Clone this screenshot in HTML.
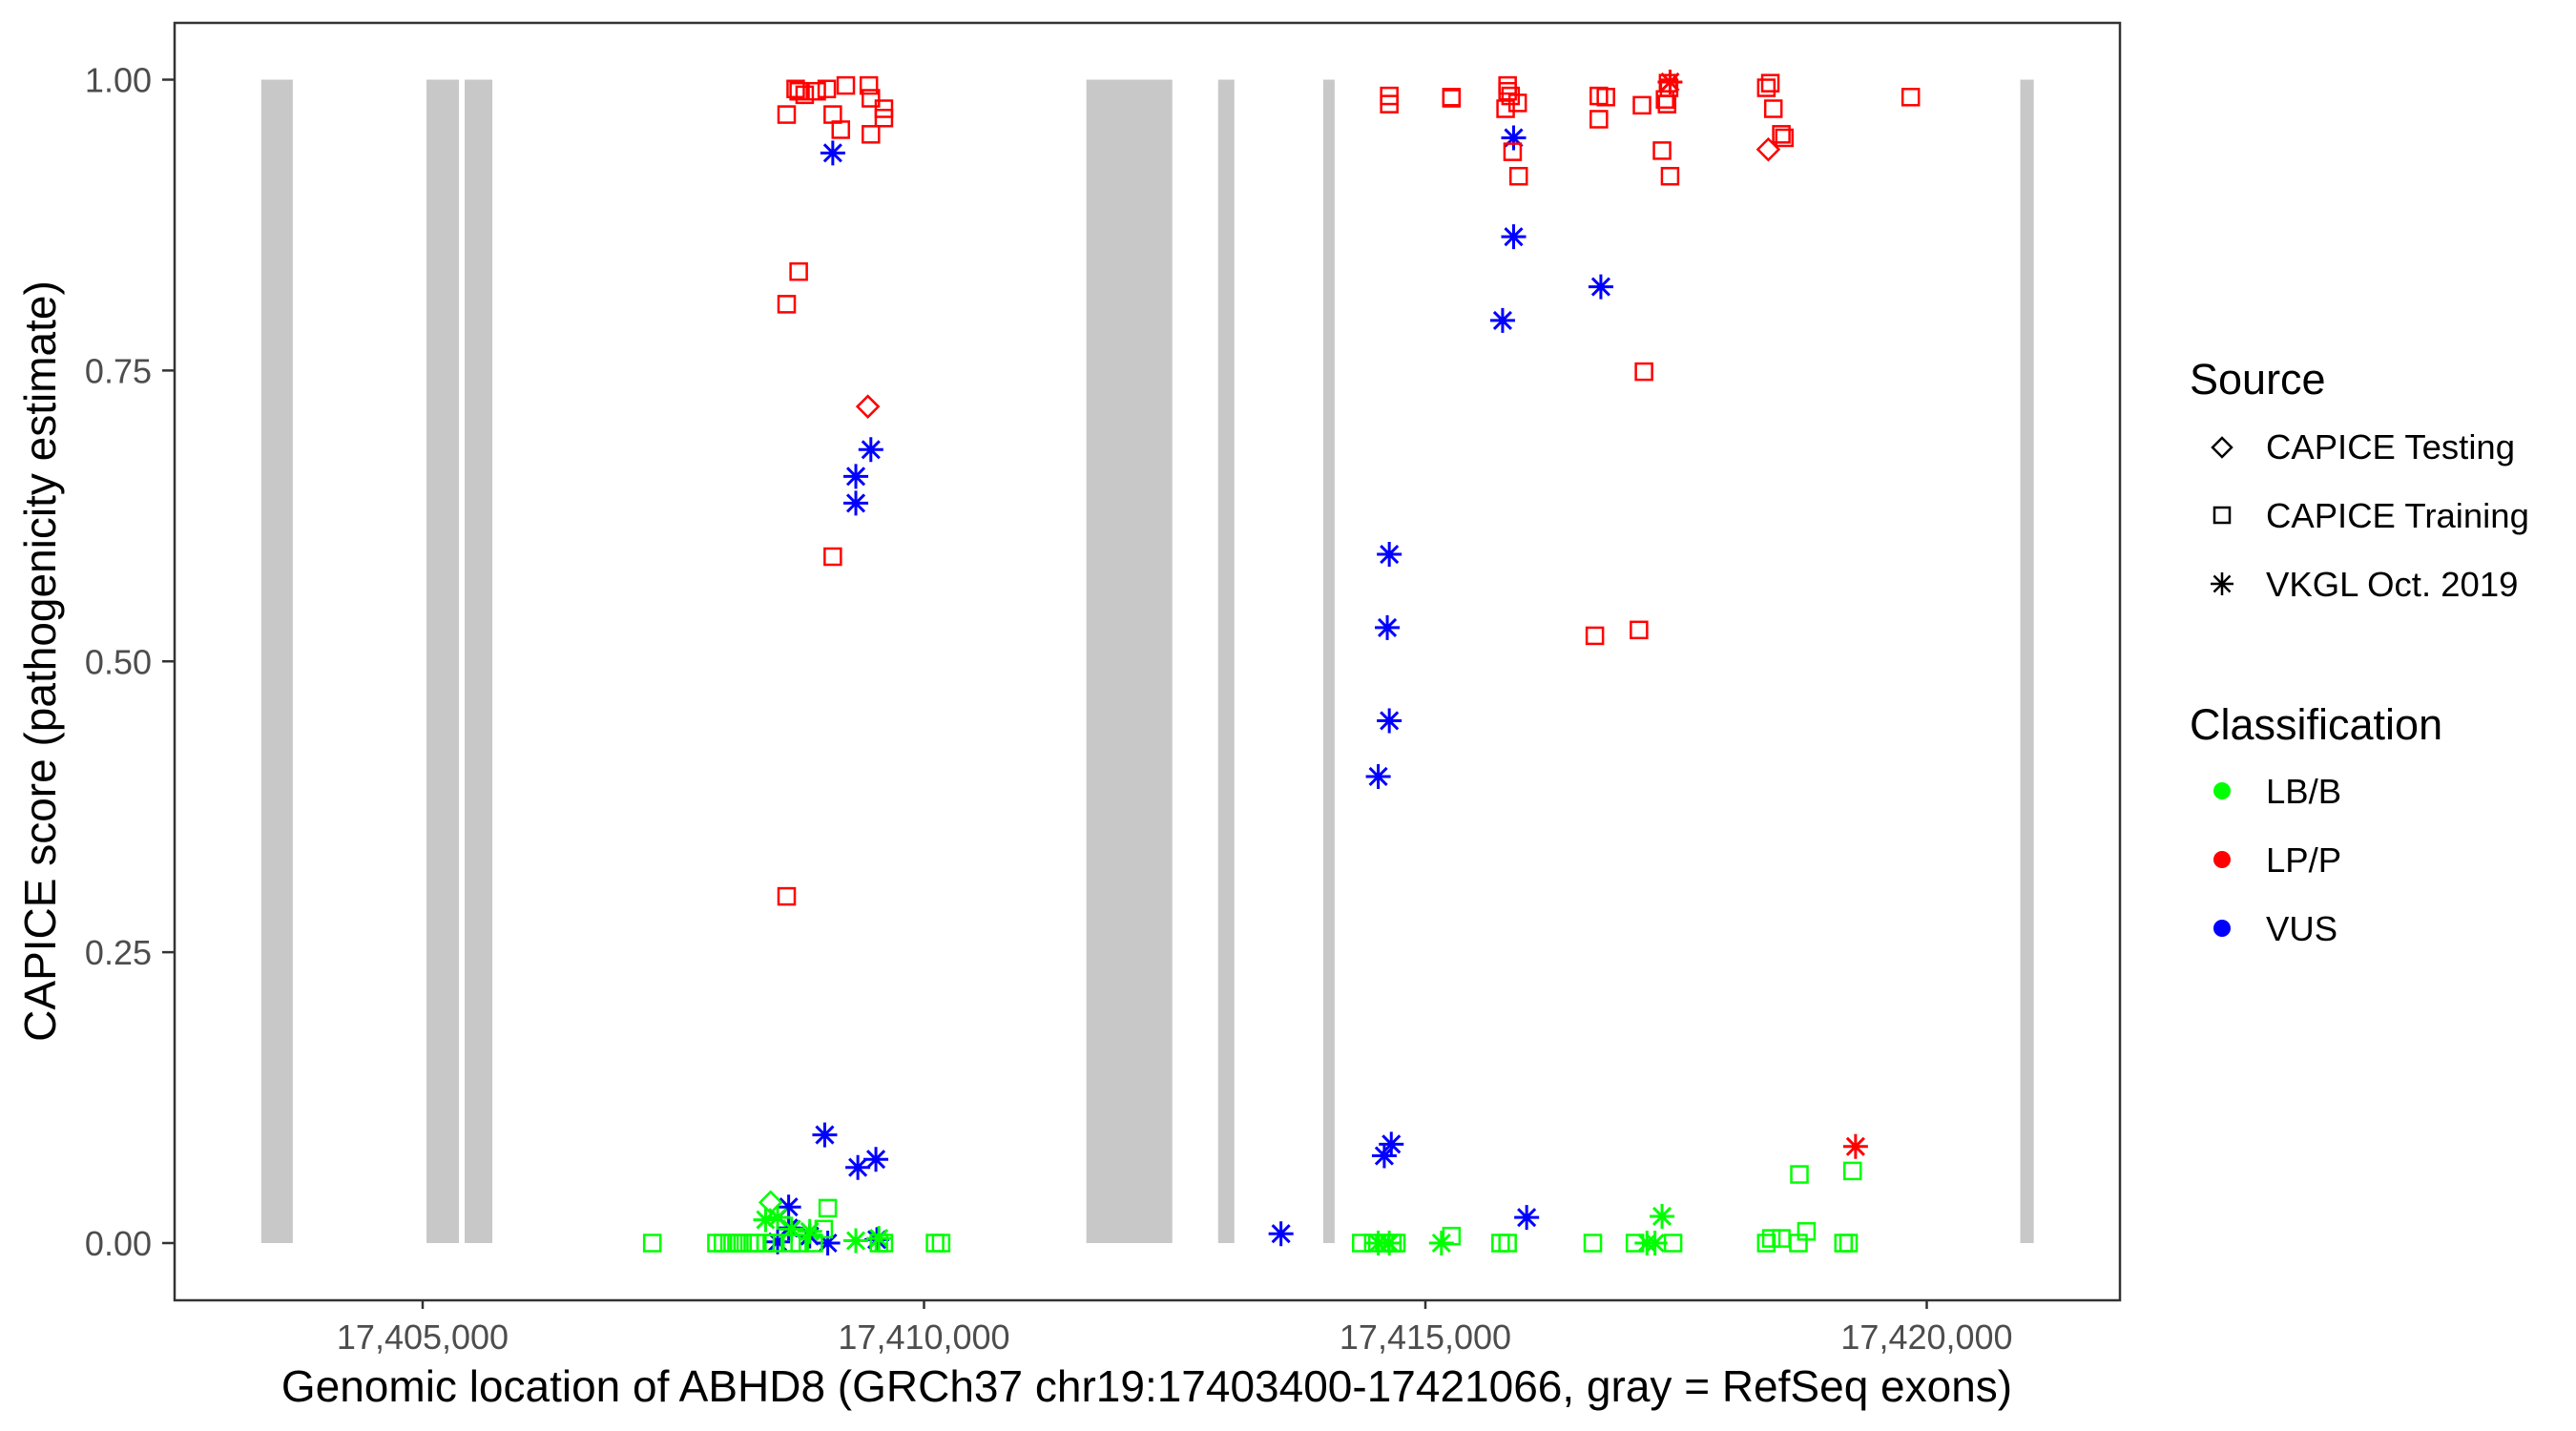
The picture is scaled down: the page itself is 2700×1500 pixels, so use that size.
<!DOCTYPE html>
<html><head><meta charset="utf-8"><style>
html,body{margin:0;padding:0;background:#fff;}
svg{display:block;font-family:"Liberation Sans",Arial,sans-serif;}
</style></head><body>
<svg id="chart" width="2700" height="1500" viewBox="0 0 2700 1500">
<rect x="0" y="0" width="2700" height="1500" fill="#fff"/>
<g id="exons"></g>
<g id="points"></g>
<rect x="183" y="24" width="2039" height="1339" fill="none" stroke="#333" stroke-width="2.5"/>
<g id="axes"></g>
<text x="1202" y="1469" font-size="46" text-anchor="middle" fill="#000">Genomic location of ABHD8 (GRCh37 chr19:17403400-17421066, gray = RefSeq exons)</text>
<text transform="translate(58,693) rotate(-90)" font-size="46" text-anchor="middle" fill="#000">CAPICE score (pathogenicity estimate)</text>
<g>
<text x="2295" y="413" font-size="45">Source</text>
<g><path d="M2329,459 l10,10 l-10,10 l-10,-10z" fill="none" stroke="#000" stroke-width="2.5"/><text x="2375" y="481" font-size="36.5">CAPICE Testing</text></g>
<g><rect x="2321" y="532" width="16" height="16" fill="none" stroke="#000" stroke-width="2.5"/><text x="2375" y="553" font-size="36.5">CAPICE Training</text></g>
<g><path d="M2329,600 v24 M2317,612 h24 M2320.5,603.5 l17,17 M2337.5,603.5 l-17,17" stroke="#000" stroke-width="2.5"/><text x="2375" y="625" font-size="36.5">VKGL Oct. 2019</text></g>
</g>
<g>
<text x="2295" y="775" font-size="45">Classification</text>
<g><circle cx="2329" cy="829" r="9" fill="#00ff00"/><text x="2375" y="842" font-size="36.5">LB/B</text></g>
<g><circle cx="2329" cy="901" r="9" fill="#ff0000"/><text x="2375" y="914" font-size="36.5">LP/P</text></g>
<g><circle cx="2329" cy="973" r="9" fill="#0000ff"/><text x="2375" y="986" font-size="36.5">VUS</text></g>
</g>
</svg>
<script>
const exonStart = [17403390,17405038,17405419,17411619,17412933,17413981,17420933];
const exonEnd   = [17403705,17405362,17405695,17412476,17413095,17414095,17421067];
const xTicks = [17405000,17410000,17415000,17420000];
const xTickLabels = ["17,405,000","17,410,000","17,415,000","17,420,000"];
const yTicks = [0,0.25,0.5,0.75,1];
const yTickLabels = ["0.00","0.25","0.50","0.75","1.00"];
// position in kb, score, source (T=testing,R=training,V=VKGL), class (B,P,U)
const posKb = [
17408.63,17408.72,17408.75,17408.81,17408.93,17409.03,17409.09,17409.17,17409.22,17409.45,17409.47,17409.47,17409.60,17409.60,17408.75,17408.63,17409.09,17408.63,
17409.44,17418.42,
17409.09,17409.32,17409.32,17409.47,17409.01,17409.34,17409.52,17408.65,17408.65,17408.54,17408.86,17409.04,17409.53,17413.56,17416.01,17414.64,17414.62,17414.64,17414.53,17414.66,17414.59,17415.88,17415.88,17415.77,17416.75,
17419.29,
17407.29,17407.93,17407.995,17408.06,17408.13,17408.19,17408.26,17408.32,17408.42,17408.50,17408.68,17408.76,17408.90,17409.55,17409.60,17410.11,17410.17,17409.04,17418.73,17419.26,
17408.47,17408.42,17408.54,17408.68,17408.86,17409.32,17409.55,
17414.36,17414.48,17414.59,17414.67,17414.71,17415.26,17415.75,17415.82,17416.67,17417.09,17417.47,17418.40,17418.45,17418.55,17418.72,17418.80,17419.17,17419.22,
17414.53,17414.64,17415.16,17417.21,17417.36,17417.29,
17409.00,
17414.64,17414.64,17415.26,17415.26,17415.82,17415.82,17415.85,17415.80,17415.92,17415.87,17415.93,17416.73,17416.80,17416.73,17417.16,17417.36,17417.44,17417.42,17417.43,17417.39,17417.41,17418.40,17418.47,17418.44,17418.55,17418.58,17419.84,17417.18,17416.69,17417.13,
17417.44
];
const score = [
0.970,0.992,0.990,0.987,0.990,0.992,0.970,0.957,0.995,0.995,0.984,0.953,0.975,0.967,0.835,0.807,0.590,0.298,
0.719,0.940,
0.937,0.659,0.636,0.682,0.093,0.065,0.072,0.031,0.013,0.001,0.006,0.000,0.003,0.008,0.022,0.592,0.529,0.449,0.401,0.085,0.075,0.950,0.865,0.793,0.822,
0.083,
0,0,0,0,0,0,0,0,0,0,0,0,0,0,0,0,0,0.030,0.059,0.062,
0.035,0.020,0.022,0.012,0.010,0.002,0.004,
0,0,0,0,0,0.006,0,0,0,0,0,0,0.004,0.004,0,0.010,0,0,
0,0,0,0,0.023,0,
0.012,
0.986,0.979,0.985,0.984,0.995,0.990,0.986,0.975,0.980,0.938,0.917,0.986,0.985,0.966,0.978,0.939,0.917,0.997,0.993,0.983,0.979,0.993,0.975,0.997,0.953,0.950,0.985,0.749,0.522,0.527,
0.998
];
const source = [
"R","R","R","R","R","R","R","R","R","R","R","R","R","R","R","R","R","R",
"T","T",
"V","V","V","V","V","V","V","V","V","V","V","V","V","V","V","V","V","V","V","V","V","V","V","V","V",
"V",
"R","R","R","R","R","R","R","R","R","R","R","R","R","R","R","R","R","R","R","R",
"T","V","V","V","V","V","V",
"R","R","R","R","R","R","R","R","R","R","R","R","R","R","R","R","R","R",
"V","V","V","V","V","V",
"R",
"R","R","R","R","R","R","R","R","R","R","R","R","R","R","R","R","R","R","R","R","R","R","R","R","R","R","R","R","R","R",
"V"
];
const classification = [
"P","P","P","P","P","P","P","P","P","P","P","P","P","P","P","P","P","P",
"P","P",
"U","U","U","U","U","U","U","U","U","U","U","U","U","U","U","U","U","U","U","U","U","U","U","U","U",
"P",
"B","B","B","B","B","B","B","B","B","B","B","B","B","B","B","B","B","B","B","B",
"B","B","B","B","B","B","B",
"B","B","B","B","B","B","B","B","B","B","B","B","B","B","B","B","B","B",
"B","B","B","B","B","B",
"B",
"P","P","P","P","P","P","P","P","P","P","P","P","P","P","P","P","P","P","P","P","P","P","P","P","P","P","P","P","P","P",
"P"
];
const colors = {B:"#00ff00",P:"#ff0000",U:"#0000ff"};
const NS = "http://www.w3.org/2000/svg";
function xScale(bp){ return 443 + (bp - 17405000) * 0.1051; }
function yScale(v){ return 1303 - v * 1219.5; }
function mk(tag, attrs){ const e = document.createElementNS(NS, tag); for (const k in attrs) e.setAttribute(k, attrs[k]); return e; }
const gEx = document.getElementById('exons');
for (let i = 0; i < exonStart.length; i++) {
  const r = mk('rect', {x: xScale(exonStart[i]), y: yScale(1), width: xScale(exonEnd[i]) - xScale(exonStart[i]), height: yScale(0) - yScale(1), fill: '#c8c8c8'});
  
  
  gEx.appendChild(r);
}
const gAx = document.getElementById('axes');
xTicks.forEach((t, i) => {
  const x = xScale(t);
  const l = mk('line', {x1: x, x2: x, y1: 1363, y2: 1372, stroke: '#333', 'stroke-width': 2.5});
  
  
  gAx.appendChild(l);
  const tx = mk('text', {x: x, y: 1414, 'font-size': 36, 'text-anchor': 'middle', fill: '#4d4d4d'});
  tx.textContent = xTickLabels[i];
  
  
  gAx.appendChild(tx);
});
yTicks.forEach((t, i) => {
  const y = yScale(t);
  const l = mk('line', {x1: 170, x2: 183, y1: y, y2: y, stroke: '#333', 'stroke-width': 2.5});
  
  
  gAx.appendChild(l);
  const tx = mk('text', {x: 159, y: y + 13, 'font-size': 36, 'text-anchor': 'end', fill: '#4d4d4d'});
  tx.textContent = yTickLabels[i];
  
  
  gAx.appendChild(tx);
});
const gP = document.getElementById('points');
for (let i = 0; i < posKb.length; i++) {
  const cx = xScale(posKb[i] * 1000), cy = yScale(score[i]);
  const c = colors[classification[i]];
  let el;
  if (source[i] === 'R') {
    el = mk('rect', {x: cx - 8.5, y: cy - 8.5, width: 17, height: 17, fill: 'none', stroke: c, 'stroke-width': 2.5});
  } else if (source[i] === 'T') {
    el = mk('path', {d: `M${cx},${cy-11} l11,11 l-11,11 l-11,-11z`, fill: 'none', stroke: c, 'stroke-width': 2.5});
  } else {
    el = mk('path', {d: `M${cx},${cy-13} v26 M${cx-13},${cy} h26 M${cx-9},${cy-9} l18,18 M${cx+9},${cy-9} l-18,18`, stroke: c, 'stroke-width': 3});
  }
  
  
  gP.appendChild(el);
}
</script>
</body></html>
